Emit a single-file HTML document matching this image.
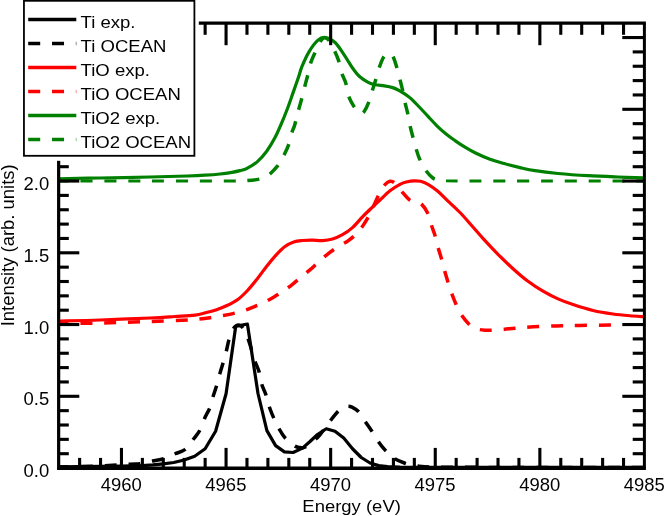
<!DOCTYPE html>
<html><head><meta charset="utf-8"><title>XANES</title>
<style>
html,body{margin:0;padding:0;background:#fff;}
body{width:664px;height:516px;overflow:hidden;}
svg{display:block;}
text{font-family:"Liberation Sans",sans-serif;font-size:18px;fill:#000;}
</style></head><body>
<svg width="664" height="516" viewBox="0 0 664 516">
<rect x="0" y="0" width="664" height="516" fill="#fff"/>
<g fill="none" stroke-linejoin="round" stroke-linecap="butt">
<path d="M58.70,466.97 L79.62,466.68 L100.54,466.40 L121.46,466.11 L142.38,465.68 L152.84,464.96 L163.30,463.82 L173.76,462.53 L184.22,459.95 L194.68,456.22 L205.14,448.77 L215.60,431.29 L226.06,393.74 L235.70,326.40 L247.40,324.00 L258.00,393.50 L266.90,430.60 L275.60,445.60 L284.40,451.90 L293.10,452.50 L302.50,448.10 L310.00,441.50 L317.50,434.50 L326.25,428.75 L335.00,431.25 L343.75,438.10 L352.50,448.75 L361.25,457.50 L370.00,463.00 L378.75,465.60 L387.50,466.60 L400.00,467.20 L644.00,467.40" stroke="#000000" stroke-width="3.20"/>
<path d="M58.80,467.00 C65.67,466.83 88.13,466.46 100.00,466.00 C111.87,465.54 123.33,464.62 130.00,464.25 C136.67,463.88 136.25,464.29 140.00,463.75 C143.75,463.21 148.54,461.83 152.50,461.00 C156.46,460.17 160.00,459.96 163.75,458.75 C167.50,457.54 171.46,455.29 175.00,453.75 C178.54,452.21 181.88,452.00 185.00,449.50 C188.12,447.00 191.25,442.00 193.75,438.75 C196.25,435.50 198.12,433.54 200.00,430.00 C201.88,426.46 203.33,421.25 205.00,417.50 C206.67,413.75 208.62,411.08 210.00,407.50 C211.38,403.92 212.18,399.53 213.25,396.00 C214.32,392.47 215.31,389.98 216.40,386.30 C217.49,382.62 218.72,377.72 219.80,373.90 C220.88,370.08 221.80,367.27 222.90,363.40 C224.00,359.53 225.43,354.50 226.40,350.70 C227.38,346.90 227.82,343.80 228.75,340.60 C229.68,337.40 230.96,333.82 232.00,331.50 C233.04,329.18 234.00,327.77 235.00,326.70 C236.00,325.63 237.00,325.18 238.00,325.10 C239.00,325.02 240.00,325.47 241.00,326.20 C242.00,326.93 242.92,327.70 244.00,329.50 C245.08,331.30 246.33,333.92 247.50,337.00 C248.67,340.08 249.73,343.92 251.00,348.00 C252.27,352.08 253.77,357.57 255.10,361.50 C256.43,365.43 257.92,367.85 259.00,371.60 C260.08,375.35 260.43,380.10 261.60,384.00 C262.77,387.90 264.60,390.88 266.00,395.00 C267.40,399.12 268.28,403.96 270.00,408.75 C271.72,413.54 274.40,419.76 276.30,423.75 C278.20,427.74 279.92,430.32 281.40,432.70 C282.88,435.07 282.97,435.78 285.20,438.00 C287.43,440.22 292.28,444.40 294.75,446.00 C297.22,447.60 298.33,447.38 300.00,447.60 C301.67,447.82 302.50,448.44 304.75,447.30 C307.00,446.16 311.00,442.80 313.50,440.75 C316.00,438.70 317.04,438.21 319.75,435.00 C322.46,431.79 326.83,425.30 329.75,421.50 C332.67,417.70 335.04,414.48 337.25,412.20 C339.46,409.92 341.29,408.78 343.00,407.80 C344.71,406.82 346.00,406.40 347.50,406.30 C349.00,406.20 350.23,406.38 352.00,407.20 C353.77,408.02 355.93,408.91 358.10,411.25 C360.27,413.59 362.70,417.92 365.00,421.25 C367.30,424.58 369.72,427.92 371.90,431.25 C374.08,434.58 375.82,438.02 378.10,441.25 C380.38,444.48 382.99,447.77 385.60,450.60 C388.21,453.43 390.52,456.14 393.75,458.25 C396.98,460.36 401.46,462.04 405.00,463.25 C408.54,464.46 410.83,464.88 415.00,465.50 C419.17,466.12 415.83,466.68 430.00,467.00 C444.17,467.32 464.33,467.33 500.00,467.40 C535.67,467.47 620.00,467.40 644.00,467.40" stroke="#000000" stroke-width="3.50" stroke-dasharray="12 11.83" stroke-dashoffset="1.8"/>
<path d="M58.80,321.00 C65.67,320.83 84.80,320.50 100.00,320.00 C115.20,319.50 137.50,318.58 150.00,318.00 C162.50,317.42 167.50,316.98 175.00,316.50 C182.50,316.02 189.92,315.72 195.00,315.10 C200.08,314.48 202.02,313.67 205.50,312.80 C208.98,311.93 212.42,311.07 215.90,309.90 C219.38,308.73 222.75,307.53 226.40,305.80 C230.05,304.07 234.28,302.05 237.80,299.50 C241.32,296.95 244.22,294.00 247.50,290.50 C250.78,287.00 254.17,282.72 257.50,278.50 C260.83,274.28 264.38,269.15 267.50,265.20 C270.62,261.25 273.33,257.92 276.25,254.80 C279.17,251.68 282.08,248.65 285.00,246.50 C287.92,244.35 290.83,242.90 293.75,241.90 C296.67,240.90 299.38,240.78 302.50,240.50 C305.62,240.22 309.17,240.18 312.50,240.20 C315.83,240.22 319.17,240.80 322.50,240.60 C325.83,240.40 329.17,239.98 332.50,239.00 C335.83,238.02 339.17,236.60 342.50,234.70 C345.83,232.80 349.17,230.58 352.50,227.60 C355.83,224.62 359.58,219.82 362.50,216.80 C365.42,213.78 367.08,212.30 370.00,209.50 C372.92,206.70 376.67,203.12 380.00,200.00 C383.33,196.88 386.67,193.42 390.00,190.80 C393.33,188.18 397.08,185.82 400.00,184.30 C402.92,182.78 405.17,182.27 407.50,181.70 C409.83,181.13 411.83,180.97 414.00,180.90 C416.17,180.83 418.17,180.73 420.50,181.30 C422.83,181.87 425.17,182.68 428.00,184.30 C430.83,185.92 434.25,188.28 437.50,191.00 C440.75,193.72 443.75,197.02 447.50,200.60 C451.25,204.18 455.83,208.19 460.00,212.50 C464.17,216.81 468.33,221.75 472.50,226.45 C476.67,231.15 480.83,236.14 485.00,240.70 C489.17,245.26 492.83,249.13 497.50,253.80 C502.17,258.47 507.92,264.12 513.00,268.70 C518.08,273.28 523.00,277.55 528.00,281.30 C533.00,285.05 538.00,288.27 543.00,291.20 C548.00,294.13 553.00,296.67 558.00,298.90 C563.00,301.13 567.17,302.67 573.00,304.60 C578.83,306.53 586.33,308.93 593.00,310.50 C599.67,312.07 606.33,313.08 613.00,314.00 C619.67,314.92 627.83,315.54 633.00,316.00 C638.17,316.46 642.17,316.62 644.00,316.75" stroke="#ff0000" stroke-width="3.20"/>
<path d="M58.80,323.30 C63.33,323.29 77.47,323.34 86.00,323.25 C94.53,323.16 102.00,322.96 110.00,322.75 C118.00,322.54 126.00,322.25 134.00,322.00 C142.00,321.75 150.00,321.54 158.00,321.25 C166.00,320.96 175.05,320.62 182.00,320.25 C188.95,319.88 194.72,319.48 199.70,319.00 C204.68,318.52 207.97,317.98 211.90,317.40 C215.83,316.82 219.43,316.23 223.30,315.50 C227.17,314.77 231.28,313.95 235.10,313.00 C238.92,312.05 242.88,310.92 246.20,309.80 C249.52,308.68 252.20,307.43 255.00,306.30 C257.80,305.17 259.83,304.55 263.00,303.00 C266.17,301.45 270.67,298.97 274.00,297.00 C277.33,295.03 279.92,293.32 283.00,291.20 C286.08,289.08 289.33,286.77 292.50,284.30 C295.67,281.83 299.00,278.88 302.00,276.40 C305.00,273.92 307.67,271.90 310.50,269.40 C313.33,266.90 316.08,264.00 319.00,261.40 C321.92,258.80 324.71,256.32 328.00,253.80 C331.29,251.28 335.29,248.55 338.75,246.30 C342.21,244.05 345.62,242.55 348.75,240.30 C351.88,238.05 354.88,235.63 357.50,232.80 C360.12,229.97 362.33,226.60 364.50,223.30 C366.67,220.00 368.75,216.38 370.50,213.00 C372.25,209.62 373.42,206.45 375.00,203.00 C376.58,199.55 378.33,195.37 380.00,192.30 C381.67,189.23 383.33,186.43 385.00,184.60 C386.67,182.77 388.33,181.53 390.00,181.30 C391.67,181.07 393.10,181.58 395.00,183.20 C396.90,184.82 398.98,188.23 401.40,191.00 C403.82,193.77 407.18,198.02 409.50,199.80 C411.82,201.58 413.35,201.03 415.30,201.70 C417.25,202.37 419.15,201.90 421.20,203.80 C423.25,205.70 425.92,209.60 427.60,213.10 C429.28,216.60 430.05,221.02 431.30,224.80 C432.55,228.58 433.97,232.00 435.10,235.80 C436.23,239.60 437.03,243.77 438.10,247.60 C439.17,251.43 440.43,255.02 441.50,258.80 C442.57,262.58 443.45,266.53 444.50,270.30 C445.55,274.07 446.62,277.58 447.80,281.40 C448.98,285.22 450.23,289.40 451.60,293.20 C452.97,297.00 454.38,300.62 456.00,304.20 C457.62,307.78 459.17,311.40 461.30,314.70 C463.43,318.00 466.68,321.83 468.80,324.00 C470.92,326.17 472.25,326.78 474.00,327.70 C475.75,328.62 477.47,329.08 479.30,329.50 C481.13,329.92 483.07,330.07 485.00,330.20 C486.93,330.33 487.82,330.43 490.90,330.30 C493.98,330.17 499.48,329.74 503.50,329.40 C507.52,329.06 510.08,328.69 515.00,328.25 C519.92,327.81 526.17,327.14 533.00,326.75 C539.83,326.36 548.17,326.12 556.00,325.90 C563.83,325.67 571.00,325.55 580.00,325.40 C589.00,325.25 603.17,325.08 610.00,325.00 C616.83,324.92 619.17,324.92 621.00,324.90" stroke="#ff0000" stroke-width="3.50" stroke-dasharray="12 11.83" stroke-dashoffset="2.3"/>
<path d="M58.80,178.75 C65.67,178.62 84.80,178.29 100.00,178.00 C115.20,177.71 135.42,177.33 150.00,177.00 C164.58,176.67 178.33,176.30 187.50,176.00 C196.67,175.70 199.58,175.53 205.00,175.20 C210.42,174.87 215.50,174.48 220.00,174.00 C224.50,173.52 228.67,172.87 232.00,172.30 C235.33,171.73 237.50,171.27 240.00,170.60 C242.50,169.93 244.10,169.80 247.00,168.30 C249.90,166.80 254.12,164.45 257.40,161.60 C260.68,158.75 263.78,155.17 266.70,151.20 C269.62,147.23 272.55,142.17 274.90,137.80 C277.25,133.43 278.75,129.77 280.80,125.00 C282.85,120.23 285.17,114.55 287.20,109.20 C289.23,103.85 291.15,98.13 293.00,92.90 C294.85,87.67 296.80,82.22 298.30,77.80 C299.80,73.38 300.22,70.73 302.00,66.40 C303.78,62.07 306.38,56.13 309.00,51.80 C311.62,47.47 315.00,42.78 317.70,40.40 C320.40,38.02 322.30,37.15 325.20,37.50 C328.10,37.85 332.00,39.68 335.10,42.50 C338.20,45.32 341.52,51.12 343.80,54.40 C346.08,57.68 347.25,59.80 348.80,62.20 C350.35,64.60 351.32,66.42 353.10,68.80 C354.88,71.18 356.98,74.25 359.50,76.50 C362.02,78.75 365.58,80.93 368.20,82.30 C370.82,83.67 372.48,84.10 375.20,84.70 C377.92,85.30 381.58,85.42 384.50,85.90 C387.42,86.38 390.45,86.93 392.70,87.60 C394.95,88.27 396.42,89.12 398.00,89.90 C399.58,90.68 400.18,90.97 402.20,92.30 C404.22,93.63 407.42,95.62 410.10,97.90 C412.78,100.18 415.38,103.00 418.30,106.00 C421.22,109.00 424.50,112.60 427.60,115.90 C430.70,119.20 433.77,122.73 436.90,125.80 C440.03,128.87 443.38,131.83 446.40,134.30 C449.42,136.77 451.90,138.45 455.00,140.60 C458.10,142.75 461.67,145.17 465.00,147.20 C468.33,149.23 470.83,150.78 475.00,152.80 C479.17,154.82 485.00,157.47 490.00,159.30 C495.00,161.13 500.00,162.42 505.00,163.80 C510.00,165.18 515.00,166.45 520.00,167.60 C525.00,168.75 528.67,169.72 535.00,170.70 C541.33,171.68 549.17,172.67 558.00,173.50 C566.83,174.33 578.00,175.12 588.00,175.70 C598.00,176.28 608.67,176.65 618.00,177.00 C627.33,177.35 639.67,177.67 644.00,177.80" stroke="#008000" stroke-width="3.20"/>
<path d="M58.80,181.00 C74.00,181.00 120.63,181.00 150.00,181.00 C179.37,181.00 218.73,181.07 235.00,181.00" stroke="#008000" stroke-width="2.90" stroke-dasharray="12 11.83" stroke-dashoffset="2.00"/>
<path d="M235.00,181.00 C251.27,180.93 243.57,180.92 247.60,180.60 C251.63,180.28 256.30,179.70 259.20,179.10 C262.10,178.50 263.17,177.88 265.00,177.00 C266.83,176.12 268.07,175.68 270.20,173.80 C272.33,171.92 276.00,167.92 277.80,165.70 C279.60,163.48 279.93,162.33 281.00,160.50 C282.07,158.67 282.93,157.32 284.20,154.70 C285.47,152.08 287.28,148.58 288.60,144.80 C289.92,141.02 291.08,135.30 292.10,132.00 C293.12,128.70 293.62,128.70 294.70,125.00 C295.78,121.30 297.43,114.18 298.60,109.80 C299.77,105.42 300.67,102.62 301.70,98.70 C302.73,94.78 303.82,90.13 304.80,86.30 C305.78,82.47 306.62,79.60 307.60,75.70 C308.58,71.80 309.50,66.68 310.70,62.90 C311.90,59.12 313.42,56.23 314.80,53.00 C316.18,49.77 317.47,46.03 319.00,43.50 C320.53,40.97 322.25,38.22 324.00,37.80 C325.75,37.38 327.75,38.85 329.50,41.00 C331.25,43.15 332.98,47.43 334.50,50.70 C336.02,53.97 337.43,56.95 338.60,60.60 C339.77,64.25 340.28,68.80 341.50,72.60 C342.72,76.40 344.73,79.55 345.90,83.40 C347.07,87.25 347.20,91.90 348.50,95.70 C349.80,99.50 352.12,103.57 353.70,106.20 C355.28,108.83 356.78,110.33 358.00,111.50 C359.22,112.67 360.00,113.15 361.00,113.20 C362.00,113.25 362.70,113.65 364.00,111.80 C365.30,109.95 367.40,105.67 368.80,102.10 C370.20,98.53 371.23,94.17 372.40,90.40 C373.57,86.63 374.67,83.28 375.80,79.50 C376.93,75.72 377.90,71.43 379.20,67.70 C380.50,63.97 382.10,59.48 383.60,57.10 C385.10,54.72 386.68,53.58 388.20,53.40 C389.72,53.22 391.30,53.78 392.70,56.00 C394.10,58.22 395.43,62.93 396.60,66.70 C397.77,70.47 398.73,74.82 399.70,78.60 C400.67,82.38 401.53,85.50 402.40,89.40 C403.27,93.30 404.03,98.07 404.90,102.00 C405.77,105.93 406.77,109.13 407.60,113.00 C408.43,116.87 409.05,121.32 409.90,125.20 C410.75,129.08 411.68,132.43 412.70,136.30 C413.72,140.17 414.87,144.65 416.00,148.40 C417.13,152.15 417.95,155.22 419.50,158.80 C421.05,162.38 423.07,166.70 425.30,169.90 C427.53,173.10 430.62,176.30 432.90,178.00 C435.18,179.70 436.82,179.62 439.00,180.10 C441.18,180.58 440.83,180.75 446.00,180.90" stroke="#008000" stroke-width="3.50" stroke-dasharray="12 11.83" stroke-dashoffset="11.39"/>
<path d="M446.00,180.90 C451.17,181.05 452.67,180.98 470.00,181.00 C487.33,181.02 521.00,181.00 550.00,181.00 C579.00,181.00 628.33,181.00 644.00,181.00" stroke="#008000" stroke-width="2.90" stroke-dasharray="12 11.83" stroke-dashoffset="0.30"/>
</g>
<g stroke="#000" fill="none" stroke-linecap="butt">
<path d="M57.05,468.15 L645.90,468.15" stroke-width="3.5"/>
<path d="M57.15,23.20 L645.90,23.20" stroke-width="3.2"/>
<path d="M58.65,23.20 L58.65,468.15" stroke-width="3.2"/>
<path d="M644.40,23.20 L644.40,468.15" stroke-width="3.0"/>
<path d="M79.62,468.15 V457.90" stroke-width="3.1"/>
<path d="M79.62,23.20 V34.80" stroke-width="3.1"/>
<path d="M100.54,468.15 V457.90" stroke-width="3.1"/>
<path d="M100.54,23.20 V34.80" stroke-width="3.1"/>
<path d="M121.46,468.15 V447.90" stroke-width="3.1"/>
<path d="M121.46,23.20 V45.20" stroke-width="3.1"/>
<path d="M142.38,468.15 V457.90" stroke-width="3.1"/>
<path d="M142.38,23.20 V34.80" stroke-width="3.1"/>
<path d="M163.30,468.15 V457.90" stroke-width="3.1"/>
<path d="M163.30,23.20 V34.80" stroke-width="3.1"/>
<path d="M184.22,468.15 V457.90" stroke-width="3.1"/>
<path d="M184.22,23.20 V34.80" stroke-width="3.1"/>
<path d="M205.14,468.15 V457.90" stroke-width="3.1"/>
<path d="M205.14,23.20 V34.80" stroke-width="3.1"/>
<path d="M226.06,468.15 V447.90" stroke-width="3.1"/>
<path d="M226.06,23.20 V45.20" stroke-width="3.1"/>
<path d="M246.98,468.15 V457.90" stroke-width="3.1"/>
<path d="M246.98,23.20 V34.80" stroke-width="3.1"/>
<path d="M267.90,468.15 V457.90" stroke-width="3.1"/>
<path d="M267.90,23.20 V34.80" stroke-width="3.1"/>
<path d="M288.82,468.15 V457.90" stroke-width="3.1"/>
<path d="M288.82,23.20 V34.80" stroke-width="3.1"/>
<path d="M309.74,468.15 V457.90" stroke-width="3.1"/>
<path d="M309.74,23.20 V34.80" stroke-width="3.1"/>
<path d="M330.66,468.15 V447.90" stroke-width="3.1"/>
<path d="M330.66,23.20 V45.20" stroke-width="3.1"/>
<path d="M351.58,468.15 V457.90" stroke-width="3.1"/>
<path d="M351.58,23.20 V34.80" stroke-width="3.1"/>
<path d="M372.50,468.15 V457.90" stroke-width="3.1"/>
<path d="M372.50,23.20 V34.80" stroke-width="3.1"/>
<path d="M393.42,468.15 V457.90" stroke-width="3.1"/>
<path d="M393.42,23.20 V34.80" stroke-width="3.1"/>
<path d="M414.34,468.15 V457.90" stroke-width="3.1"/>
<path d="M414.34,23.20 V34.80" stroke-width="3.1"/>
<path d="M435.26,468.15 V447.90" stroke-width="3.1"/>
<path d="M435.26,23.20 V45.20" stroke-width="3.1"/>
<path d="M456.18,468.15 V457.90" stroke-width="3.1"/>
<path d="M456.18,23.20 V34.80" stroke-width="3.1"/>
<path d="M477.10,468.15 V457.90" stroke-width="3.1"/>
<path d="M477.10,23.20 V34.80" stroke-width="3.1"/>
<path d="M498.02,468.15 V457.90" stroke-width="3.1"/>
<path d="M498.02,23.20 V34.80" stroke-width="3.1"/>
<path d="M518.94,468.15 V457.90" stroke-width="3.1"/>
<path d="M518.94,23.20 V34.80" stroke-width="3.1"/>
<path d="M539.86,468.15 V447.90" stroke-width="3.1"/>
<path d="M539.86,23.20 V45.20" stroke-width="3.1"/>
<path d="M560.78,468.15 V457.90" stroke-width="3.1"/>
<path d="M560.78,23.20 V34.80" stroke-width="3.1"/>
<path d="M581.70,468.15 V457.90" stroke-width="3.1"/>
<path d="M581.70,23.20 V34.80" stroke-width="3.1"/>
<path d="M602.62,468.15 V457.90" stroke-width="3.1"/>
<path d="M602.62,23.20 V34.80" stroke-width="3.1"/>
<path d="M623.54,468.15 V457.90" stroke-width="3.1"/>
<path d="M623.54,23.20 V34.80" stroke-width="3.1"/>
<path d="M58.65,453.70 H68.80" stroke-width="3.1"/>
<path d="M644.40,453.70 H632.70" stroke-width="3.1"/>
<path d="M58.65,439.35 H68.80" stroke-width="3.1"/>
<path d="M644.40,439.35 H632.70" stroke-width="3.1"/>
<path d="M58.65,425.00 H68.80" stroke-width="3.1"/>
<path d="M644.40,425.00 H632.70" stroke-width="3.1"/>
<path d="M58.65,410.65 H68.80" stroke-width="3.1"/>
<path d="M644.40,410.65 H632.70" stroke-width="3.1"/>
<path d="M58.65,396.30 H79.30" stroke-width="3.1"/>
<path d="M644.40,396.30 H622.30" stroke-width="3.1"/>
<path d="M58.65,381.95 H68.80" stroke-width="3.1"/>
<path d="M644.40,381.95 H632.70" stroke-width="3.1"/>
<path d="M58.65,367.60 H68.80" stroke-width="3.1"/>
<path d="M644.40,367.60 H632.70" stroke-width="3.1"/>
<path d="M58.65,353.25 H68.80" stroke-width="3.1"/>
<path d="M644.40,353.25 H632.70" stroke-width="3.1"/>
<path d="M58.65,338.90 H68.80" stroke-width="3.1"/>
<path d="M644.40,338.90 H632.70" stroke-width="3.1"/>
<path d="M58.65,324.55 H79.30" stroke-width="3.1"/>
<path d="M644.40,324.55 H622.30" stroke-width="3.1"/>
<path d="M58.65,310.20 H68.80" stroke-width="3.1"/>
<path d="M644.40,310.20 H632.70" stroke-width="3.1"/>
<path d="M58.65,295.85 H68.80" stroke-width="3.1"/>
<path d="M644.40,295.85 H632.70" stroke-width="3.1"/>
<path d="M58.65,281.50 H68.80" stroke-width="3.1"/>
<path d="M644.40,281.50 H632.70" stroke-width="3.1"/>
<path d="M58.65,267.15 H68.80" stroke-width="3.1"/>
<path d="M644.40,267.15 H632.70" stroke-width="3.1"/>
<path d="M58.65,252.80 H79.30" stroke-width="3.1"/>
<path d="M644.40,252.80 H622.30" stroke-width="3.1"/>
<path d="M58.65,238.45 H68.80" stroke-width="3.1"/>
<path d="M644.40,238.45 H632.70" stroke-width="3.1"/>
<path d="M58.65,224.10 H68.80" stroke-width="3.1"/>
<path d="M644.40,224.10 H632.70" stroke-width="3.1"/>
<path d="M58.65,209.75 H68.80" stroke-width="3.1"/>
<path d="M644.40,209.75 H632.70" stroke-width="3.1"/>
<path d="M58.65,195.40 H68.80" stroke-width="3.1"/>
<path d="M644.40,195.40 H632.70" stroke-width="3.1"/>
<path d="M58.65,181.05 H79.30" stroke-width="3.1"/>
<path d="M644.40,181.05 H622.30" stroke-width="3.1"/>
<path d="M58.65,166.70 H68.80" stroke-width="3.1"/>
<path d="M644.40,166.70 H632.70" stroke-width="3.1"/>
<path d="M58.65,152.35 H68.80" stroke-width="3.1"/>
<path d="M644.40,152.35 H632.70" stroke-width="3.1"/>
<path d="M58.65,138.00 H68.80" stroke-width="3.1"/>
<path d="M644.40,138.00 H632.70" stroke-width="3.1"/>
<path d="M58.65,123.65 H68.80" stroke-width="3.1"/>
<path d="M644.40,123.65 H632.70" stroke-width="3.1"/>
<path d="M58.65,109.30 H79.30" stroke-width="3.1"/>
<path d="M644.40,109.30 H622.30" stroke-width="3.1"/>
<path d="M58.65,94.95 H68.80" stroke-width="3.1"/>
<path d="M644.40,94.95 H632.70" stroke-width="3.1"/>
<path d="M58.65,80.60 H68.80" stroke-width="3.1"/>
<path d="M644.40,80.60 H632.70" stroke-width="3.1"/>
<path d="M58.65,66.25 H68.80" stroke-width="3.1"/>
<path d="M644.40,66.25 H632.70" stroke-width="3.1"/>
<path d="M58.65,51.90 H68.80" stroke-width="3.1"/>
<path d="M644.40,51.90 H632.70" stroke-width="3.1"/>
<path d="M58.65,37.55 H79.30" stroke-width="3.1"/>
<path d="M644.40,37.55 H622.30" stroke-width="3.1"/>
</g>
<rect x="20" y="-5" width="178.8" height="165.8" fill="#fff"/>
<rect x="23.95" y="0.8" width="170.45" height="155" fill="#fff" stroke="#000" stroke-width="1.8"/>
<path d="M28.2,19.55 H76.3" stroke="#000000" stroke-width="3.5" fill="none"/>
<path d="M28.2,43.52 H76.3" stroke="#000000" stroke-width="3.5" fill="none" stroke-dasharray="12 11.83"/>
<path d="M28.2,67.49 H76.3" stroke="#ff0000" stroke-width="3.5" fill="none"/>
<path d="M28.2,91.46 H76.3" stroke="#ff0000" stroke-width="3.5" fill="none" stroke-dasharray="12 11.83"/>
<path d="M28.2,115.43 H76.3" stroke="#008000" stroke-width="3.5" fill="none"/>
<path d="M28.2,139.40 H76.3" stroke="#008000" stroke-width="3.5" fill="none" stroke-dasharray="12 11.83"/>
<g style="opacity:0.999"><text transform="translate(80.60,27.60) scale(1.030,0.965)">Ti exp.</text>
<text transform="translate(80.60,51.65) scale(1.030,0.965)">Ti OCEAN</text>
<text transform="translate(80.60,75.70) scale(1.030,0.965)">TiO exp.</text>
<text transform="translate(80.60,99.75) scale(1.030,0.965)">TiO OCEAN</text>
<text transform="translate(80.60,123.80) scale(1.030,0.965)">TiO2 exp.</text>
<text transform="translate(80.60,147.85) scale(1.030,0.965)">TiO2 OCEAN</text>
<text transform="translate(121.26,490.60) scale(1.026,0.985)" text-anchor="middle">4960</text>
<text transform="translate(225.86,490.60) scale(1.026,0.985)" text-anchor="middle">4965</text>
<text transform="translate(330.46,490.60) scale(1.026,0.985)" text-anchor="middle">4970</text>
<text transform="translate(435.06,490.60) scale(1.026,0.985)" text-anchor="middle">4975</text>
<text transform="translate(539.66,490.60) scale(1.026,0.985)" text-anchor="middle">4980</text>
<text transform="translate(644.26,490.60) scale(1.026,0.985)" text-anchor="middle">4985</text>
<text transform="translate(49.20,477.05) scale(1.026,0.985)" text-anchor="end">0.0</text>
<text transform="translate(49.20,405.30) scale(1.026,0.985)" text-anchor="end">0.5</text>
<text transform="translate(49.20,333.55) scale(1.026,0.985)" text-anchor="end">1.0</text>
<text transform="translate(49.20,261.80) scale(1.026,0.985)" text-anchor="end">1.5</text>
<text transform="translate(49.20,190.05) scale(1.026,0.985)" text-anchor="end">2.0</text>
<text transform="translate(351.60,512.00) scale(1.026,0.960)" text-anchor="middle">Energy (eV)</text>
<text transform="translate(13.50,245.30) rotate(-90) scale(1.026,1.000)" text-anchor="middle">Intensity (arb. units)</text></g>
</svg>
</body></html>
